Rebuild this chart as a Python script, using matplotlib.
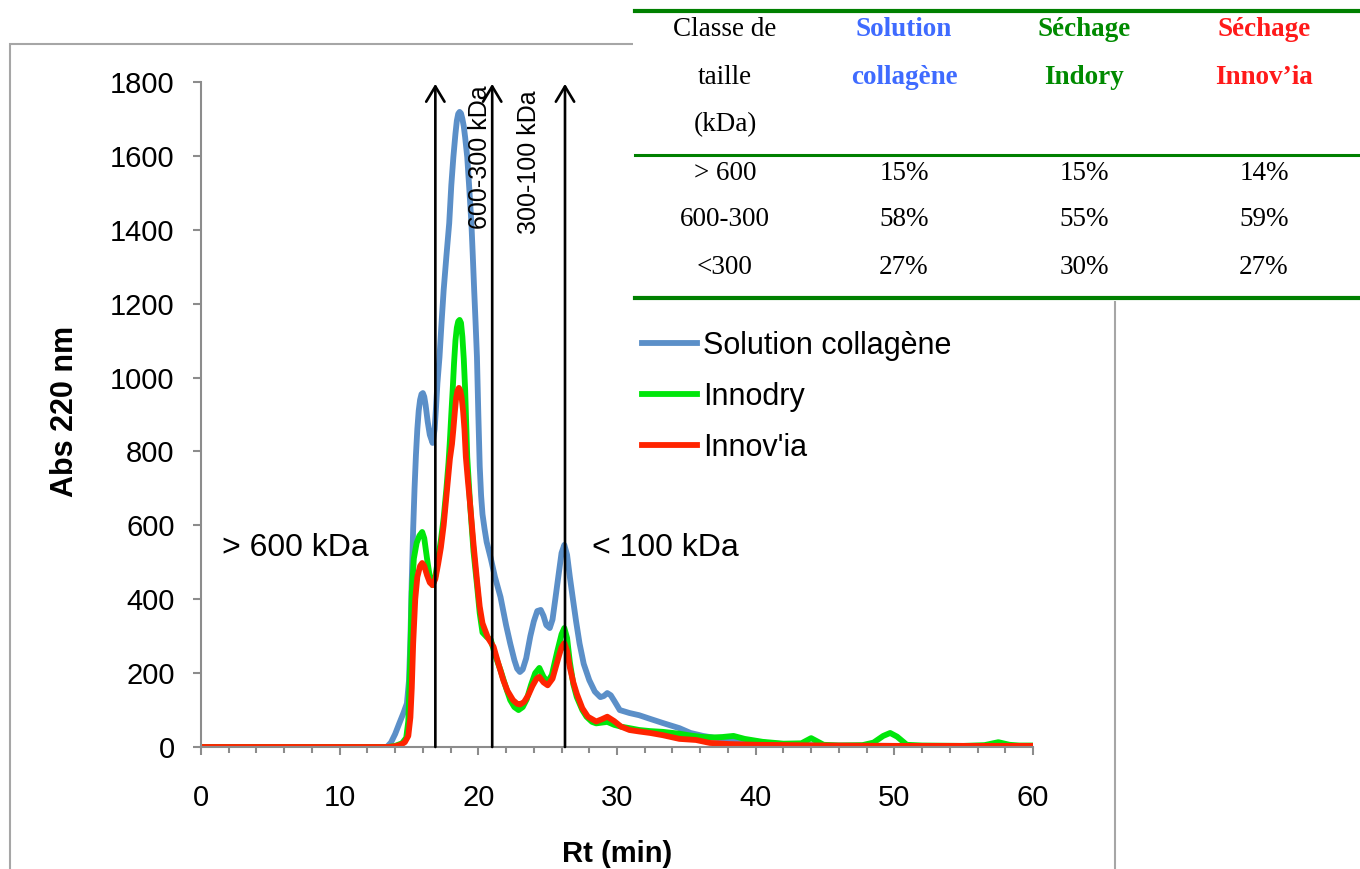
import numpy as np
import matplotlib.pyplot as plt
from matplotlib.lines import Line2D
from matplotlib.patches import Rectangle

# chromatogram data (Rt in min, Abs 220 nm)
t_sol = [0, 5, 10, 13.0, 13.4, 13.7, 14.0, 14.3, 14.6, 14.85, 15.0, 15.1, 15.2, 15.3, 15.4, 15.5,
         15.6, 15.7, 15.8, 15.9, 16.0, 16.1, 16.2, 16.35, 16.5, 16.7, 16.85, 16.95, 17.05, 17.2,
         17.35, 17.5, 17.7, 17.9, 18.05, 18.2, 18.35, 18.45, 18.55, 18.65, 18.75, 18.85, 18.95,
         19.05, 19.2, 19.35, 19.5, 19.6, 19.7, 19.8, 19.9, 20.0, 20.1, 20.2, 20.3, 20.45, 20.6,
         20.9, 21.2, 21.6, 22.0, 22.3, 22.6, 22.8, 23.0, 23.2, 23.45, 23.75, 24.0, 24.25, 24.5,
         24.7, 24.9, 25.15, 25.35, 25.55, 25.8, 26.0, 26.2, 26.4, 26.6, 26.8, 27.05, 27.3, 27.6,
         28.0, 28.4, 28.8, 29.05, 29.3, 29.55, 29.8, 30.2, 30.9, 31.6, 32.4, 33.3, 34.5, 35.3,
         36.2, 37.0, 38.0, 39.0, 40.0, 41.0, 42.0, 43.0, 45.0, 50.0, 55.0, 60.0]
v_sol = [0, 0, 0, 0, 0, 12, 35, 64, 92, 118, 180, 290, 452, 590, 700, 790,
         860, 910, 940, 955, 958, 948, 925, 880, 845, 823, 860, 920, 985, 1056,
         1150, 1237, 1330, 1418, 1520, 1597, 1660, 1695, 1714, 1719, 1715, 1700, 1680,
         1650, 1597, 1510, 1418, 1330, 1237, 1150, 1056, 900, 760, 680, 630, 590, 555,
         510, 460, 406, 330, 280, 235, 212, 203, 210, 240, 300, 340, 368, 371,
         355, 330, 322, 345, 400, 470, 525, 547, 520, 460, 406, 340, 280, 225,
         181, 150, 135, 138, 146, 140, 125, 100, 92, 86, 76, 65, 51, 38,
         30, 25, 22, 20, 15, 10, 8, 6, 4, 3, 2, 2]

t_dry = [0, 13.5, 14.0, 14.5, 14.8, 14.95, 15.1, 15.2, 15.35, 15.55, 15.75, 15.95, 16.1, 16.3,
         16.5, 16.7, 16.9, 17.1, 17.3, 17.5, 17.7, 17.85, 17.95, 18.05, 18.15, 18.25, 18.35,
         18.45, 18.55, 18.65, 18.75, 18.85, 18.95, 19.05, 19.2, 19.4, 19.65, 19.9, 20.1, 20.3,
         20.6, 20.9, 21.2, 21.6, 22.0, 22.3, 22.6, 22.9, 23.2, 23.5, 23.8, 24.1, 24.4, 24.7, 25.0,
         25.3, 25.7, 26.0, 26.2, 26.4, 26.6, 26.85, 27.1, 27.5, 27.8, 28.2, 28.5, 28.9, 29.3, 29.8,
         30.3, 30.9, 31.6, 32.4, 33.3, 34.5, 35.3, 36.2, 37.0, 37.6, 38.4, 39.2, 40.5, 42.0, 43.3,
         43.7, 44.0, 44.4, 44.9, 46.0, 47.7, 48.5, 49.2, 49.7, 50.2, 50.9, 52.0, 55.0, 56.5, 57.5,
         58.3, 59.0, 60.0]
v_dry = [0, 0, 3, 10, 25, 70, 250, 420, 510, 552, 572, 582, 565, 510,
         460, 438, 462, 510, 560, 620, 700, 770, 830, 900, 966, 1040, 1100,
         1135, 1152, 1156, 1148, 1110, 1050, 966, 785, 660, 530, 440, 362, 310,
         298, 290, 250, 208, 160, 127, 108, 100, 108, 130, 168, 200, 214, 190, 176,
         195, 260, 305, 322, 295, 230, 170, 135, 100, 82, 68, 64, 66, 68, 60,
         55, 51, 46, 43, 41, 36, 31, 27, 26, 27, 30, 22, 14, 9, 10,
         18, 24, 16, 6, 4, 5, 12, 30, 38, 28, 6, 4, 3, 5, 13,
         6, 4, 4]

t_inn = [0, 13.5, 14.0, 14.4, 14.7, 14.95, 15.1, 15.2, 15.3, 15.45, 15.6, 15.8, 15.95, 16.1, 16.3,
         16.5, 16.7, 16.9, 17.1, 17.3, 17.5, 17.7, 17.95, 18.1, 18.2, 18.3, 18.4, 18.5, 18.6, 18.7,
         18.8, 18.9, 19.0, 19.1, 19.25, 19.4, 19.65, 19.9, 20.1, 20.3, 20.7, 21.1, 21.45, 21.8,
         22.1, 22.5, 22.8, 23.0, 23.3, 23.6, 23.9, 24.2, 24.4, 24.7, 25.0, 25.35, 25.8, 26.0, 26.2,
         26.4, 26.6, 26.85, 27.1, 27.5, 27.9, 28.5, 28.9, 29.3, 29.8, 30.3, 30.9, 31.6, 32.4, 33.3,
         34.5, 35.7, 36.7, 38.1, 40.0, 45.0, 50.0, 55.0, 60.0]
v_inn = [0, 0, 2, 6, 13, 30, 80, 160, 280, 400, 460, 490, 498, 490, 465,
         445, 438, 455, 495, 540, 600, 680, 780, 820, 860, 905, 945, 965, 972, 965,
         945, 910, 860, 785, 720, 660, 550, 452, 380, 335, 295, 271, 225, 181,
         152, 127, 117, 115, 122, 140, 165, 185, 190, 175, 167, 185, 245, 270, 281,
         260, 215, 175, 144, 105, 82, 69, 75, 82, 70, 55, 46, 42, 38, 32,
         22, 19, 11, 8, 6, 4, 3, 3, 3]

series_labels = ["Solution collagène", "Innodry", "Innov'ia"]
series_colors = ["#5b8fc8", "#00e60a", "#ff2400"]

# size class limits (arrows)
cut_rt = [16.9, 21.0, 26.25]

# table
tab_head = [["Classe de", "taille", "(kDa)"], ["Solution", "collagène"], ["Séchage", "Indory"],
            ["Séchage", "Innov’ia"]]
tab_head_colors = ["black", "#3f6bff", "#008a00", "#ff1a1a"]
tab_classes = ["> 600", "600-300", "<300"]
tab_sol = ["15%", "58%", "27%"]
tab_dry = ["15%", "55%", "30%"]
tab_inn = ["14%", "59%", "27%"]

W, H = 1360, 869
fig = plt.figure(figsize=(W / 100, H / 100), dpi=100)
plt.rcParams['font.family'] = ['Liberation Sans', 'DejaVu Sans']

def fx(px):
    return px / W

def fy(py):
    return 1 - py / H

# outer chart frame
fig.add_artist(Rectangle((fx(10), fy(880)), fx(1115) - fx(10), fy(44) - fy(880),
                         transform=fig.transFigure, fill=False, ec="#a6a6a6", lw=1.5, zorder=0))

ax = fig.add_axes([fx(201), fy(747), fx(1033) - fx(201), fy(82) - fy(747)])
ax.plot(t_sol, v_sol, color=series_colors[0], lw=4.2, label=series_labels[0], solid_joinstyle="round")
ax.plot(t_dry, v_dry, color=series_colors[1], lw=4.2, label=series_labels[1], solid_joinstyle="round")
ax.plot(t_inn, v_inn, color=series_colors[2], lw=4.2, label=series_labels[2], solid_joinstyle="round")

for x in cut_rt:
    ax.annotate("", xy=(x, 1795), xytext=(x, 0),
                arrowprops=dict(arrowstyle="->,head_length=0.5,head_width=0.3", color="black",
                                lw=1.9, mutation_scale=22, shrinkA=0, shrinkB=0), zorder=5)

ax.text(20.1, 1792, "600-300 kDa", rotation=90, ha="center", va="top", fontsize=18)
ax.text(23.65, 1778, "300-100 kDa", rotation=90, ha="center", va="top", fontsize=18)
ax.text(6.8, 539, "> 600 kDa", ha="center", va="center", fontsize=23)
ax.text(33.5, 539, "< 100 kDa", ha="center", va="center", fontsize=23)

ax.set_xlim(0, 60)
ax.set_ylim(0, 1800)
ax.set_xticks(np.arange(0, 61, 10))
ax.set_xticks(np.arange(0, 61, 2), minor=True)
ax.set_yticks(np.arange(0, 1801, 200))
for s in ["top", "right"]:
    ax.spines[s].set_visible(False)
for s in ["left", "bottom"]:
    ax.spines[s].set_color("#8c8c8c")
    ax.spines[s].set_linewidth(1.5)
ax.tick_params(axis="both", which="major", direction="out", length=6, width=1.5,
               color="#8c8c8c", labelsize=21)
ax.tick_params(axis="y", which="major", pad=13)
ax.tick_params(axis="x", which="major", pad=21)
ax.tick_params(axis="x", which="minor", direction="out", length=4, width=1.5, color="#8c8c8c")
ax.set_xlabel("Rt (min)", fontsize=21, fontweight="bold")
ax.set_ylabel("Abs 220 nm", fontsize=22, fontweight="bold")
ax.xaxis.set_label_coords(0.5, -0.14)
ax.yaxis.set_label_coords(-0.1454, 0.504)

ax.legend(loc="upper left", bbox_to_anchor=(fx(642), fy(331)), bbox_transform=fig.transFigure,
          frameon=False, fontsize=22, handlelength=1.8, handletextpad=0.2, labelspacing=0.69,
          borderpad=0, borderaxespad=0)

# summary table on top-right
fig.add_artist(Rectangle((fx(633), fy(301)), 1 - fx(633), fy(0) - fy(301),
                         transform=fig.transFigure, fc="white", ec="none", zorder=10))
for py, lw in [(11, 3), (155, 2.2), (298, 3)]:
    fig.add_artist(Line2D([fx(635), fx(1358)], [fy(py), fy(py)], transform=fig.transFigure,
                          color="#008000", lw=lw, zorder=11))

col_x = [725, 904, 1084, 1264]
head_y = [30, 78, 125]
for i, head in enumerate(tab_head):
    for k, line in enumerate(head):
        fig.text(fx(col_x[i]), fy(head_y[k]), line, ha="center", va="center", fontsize=19.5,
                 color=tab_head_colors[i], fontweight="normal" if i == 0 else "bold",
                 family="Liberation Serif", zorder=12)
row_y = [173, 220, 267]
for j in range(3):
    for i, col in enumerate([tab_classes, tab_sol, tab_dry, tab_inn]):
        fig.text(fx(col_x[i]), fy(row_y[j]), col[j], ha="center", va="center", fontsize=19.5,
                 family="Liberation Serif", zorder=12)

fig.savefig("out.png", dpi=100)
